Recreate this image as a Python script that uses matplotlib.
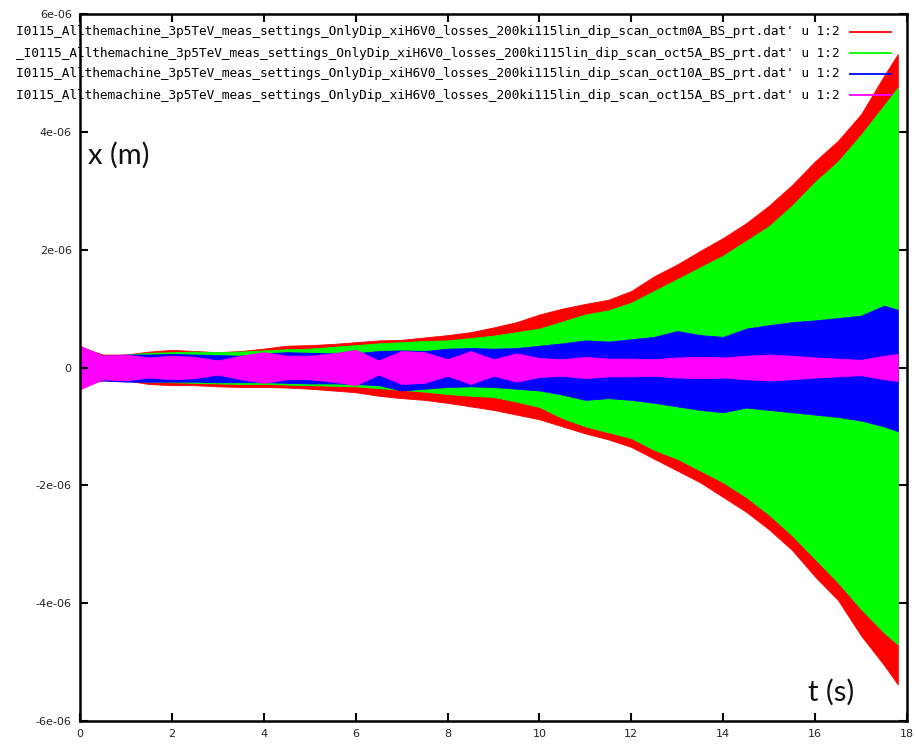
import matplotlib
matplotlib.use("Agg")
import matplotlib.pyplot as plt
from matplotlib.ticker import FuncFormatter, MultipleLocator
from matplotlib.lines import Line2D
import numpy as np

# envelope of each oscillation (units of 1e-6 m)
t = [0, 0.5, 1, 1.5, 2, 2.5, 3, 3.5, 4, 4.5, 5, 5.5, 6, 6.5, 7, 7.5, 8, 8.5, 9,
     9.5, 10, 10.5, 11, 11.5, 12, 12.5, 13, 13.5, 14, 14.5, 15, 15.5, 16, 16.5,
     17, 17.5, 17.8]

red_up = [0.35, 0.22, 0.22, 0.27, 0.30, 0.28, 0.26, 0.28, 0.32, 0.37, 0.38, 0.40,
          0.43, 0.46, 0.47, 0.51, 0.55, 0.60, 0.68, 0.77, 0.90, 1.00, 1.08, 1.15,
          1.30, 1.55, 1.75, 1.98, 2.20, 2.45, 2.75, 3.10, 3.50, 3.85, 4.30, 4.95, 5.32]
red_lo = [-0.30, -0.22, -0.22, -0.28, -0.30, -0.30, -0.32, -0.33, -0.33, -0.34,
          -0.36, -0.39, -0.42, -0.48, -0.52, -0.55, -0.60, -0.66, -0.72, -0.80,
          -0.88, -1.00, -1.12, -1.22, -1.35, -1.55, -1.75, -1.95, -2.20, -2.45,
          -2.75, -3.10, -3.55, -3.95, -4.55, -5.05, -5.38]

green_up = [0.30, 0.20, 0.22, 0.25, 0.26, 0.27, 0.26, 0.27, 0.29, 0.31, 0.32, 0.35,
            0.38, 0.41, 0.43, 0.45, 0.46, 0.50, 0.54, 0.60, 0.66, 0.78, 0.90, 0.97,
            1.10, 1.30, 1.50, 1.70, 1.90, 2.15, 2.40, 2.75, 3.15, 3.50, 3.95, 4.45, 4.75]
green_lo = [-0.28, -0.20, -0.22, -0.24, -0.25, -0.26, -0.27, -0.28, -0.28, -0.29,
            -0.30, -0.31, -0.32, -0.35, -0.38, -0.41, -0.45, -0.48, -0.50, -0.58,
            -0.67, -0.86, -1.00, -1.10, -1.20, -1.40, -1.55, -1.75, -1.95, -2.20,
            -2.50, -2.85, -3.25, -3.65, -4.10, -4.50, -4.70]

blue_up = [0.20, 0.20, 0.22, 0.22, 0.23, 0.22, 0.21, 0.20, 0.24, 0.26, 0.25, 0.24,
           0.24, 0.28, 0.29, 0.28, 0.32, 0.33, 0.32, 0.33, 0.37, 0.41, 0.46, 0.44,
           0.48, 0.52, 0.62, 0.55, 0.52, 0.66, 0.72, 0.77, 0.80, 0.84, 0.88, 1.05, 0.98]
blue_lo = [-0.22, -0.22, -0.24, -0.24, -0.24, -0.24, -0.25, -0.25, -0.25, -0.26,
           -0.27, -0.27, -0.28, -0.30, -0.39, -0.36, -0.33, -0.32, -0.33, -0.36,
           -0.39, -0.46, -0.55, -0.52, -0.55, -0.60, -0.66, -0.72, -0.76, -0.68,
           -0.72, -0.76, -0.80, -0.84, -0.90, -1.00, -1.08]

magenta_amp = [0.37, 0.20, 0.22, 0.17, 0.20, 0.18, 0.12, 0.20, 0.26, 0.20, 0.20,
               0.24, 0.30, 0.12, 0.28, 0.26, 0.14, 0.28, 0.14, 0.24, 0.16, 0.14,
               0.18, 0.15, 0.15, 0.14, 0.17, 0.18, 0.17, 0.20, 0.22, 0.20, 0.17,
               0.15, 0.13, 0.20, 0.23]

labels = [
    "I0115_Allthemachine_3p5TeV_meas_settings_OnlyDip_xiH6V0_losses_200ki115lin_dip_scan_octm0A_BS_prt.dat' u 1:2",
    "_I0115_Allthemachine_3p5TeV_meas_settings_OnlyDip_xiH6V0_losses_200ki115lin_dip_scan_oct5A_BS_prt.dat' u 1:2",
    "I0115_Allthemachine_3p5TeV_meas_settings_OnlyDip_xiH6V0_losses_200ki115lin_dip_scan_oct10A_BS_prt.dat' u 1:2",
    "I0115_Allthemachine_3p5TeV_meas_settings_OnlyDip_xiH6V0_losses_200ki115lin_dip_scan_oct15A_BS_prt.dat' u 1:2",
]
colors = ["#ff0000", "#00ff00", "#0000ff", "#ff00ff"]

t = np.array(t)
scale = 1e-6
mag = np.array(magenta_amp)
bands = [
    (np.array(red_up), np.array(red_lo)),
    (np.array(green_up), np.array(green_lo)),
    (np.array(blue_up), np.array(blue_lo)),
    (mag, -mag),
]

fig = plt.figure(figsize=(9.16, 7.53), dpi=100)
ax = fig.add_axes([80 / 916, 32 / 753, 827 / 916, 707 / 753])

for i, (up, lo) in enumerate(bands):
    ax.fill_between(t, lo * scale, up * scale, color=colors[i], linewidth=0.6,
                    edgecolor=colors[i], zorder=1 + 0.1 * i)

ax.set_xlim(0, 18)
ax.set_ylim(-6e-6, 6e-6)
ax.xaxis.set_major_locator(MultipleLocator(2))
ax.yaxis.set_major_locator(MultipleLocator(2e-6))
fmt = FuncFormatter(lambda v, p: "%g" % v)
ax.xaxis.set_major_formatter(fmt)
ax.yaxis.set_major_formatter(fmt)
ax.tick_params(direction="in", length=6, width=1.5, top=True, right=True,
               labelsize=8, labelcolor="#222222", pad=6)
for s in ax.spines.values():
    s.set_linewidth(1.8)

# gnuplot style key, top right, text right aligned
for i, lab in enumerate(labels):
    yy = 1 - (32 + 21 * i) / 753
    ax.text(840 / 916, yy, lab, transform=fig.transFigure, ha="right", va="center",
            family="DejaVu Sans Mono", fontsize=9.2, zorder=2, clip_on=False)
    ax.add_line(Line2D([850 / 916, 891 / 916], [yy, yy], transform=fig.transFigure,
                       color=colors[i], linewidth=1.3, zorder=3, clip_on=False))

ax.text(88 / 916, 1 - 155 / 753, "x (m)", transform=fig.transFigure,
        family="Lato", fontsize=21, color="#111111", va="center", ha="left")
ax.text(808 / 916, 1 - 692 / 753, "t (s)", transform=fig.transFigure,
        family="Lato", fontsize=21, color="#111111", va="center", ha="left")

fig.savefig("out.png", dpi=100)
